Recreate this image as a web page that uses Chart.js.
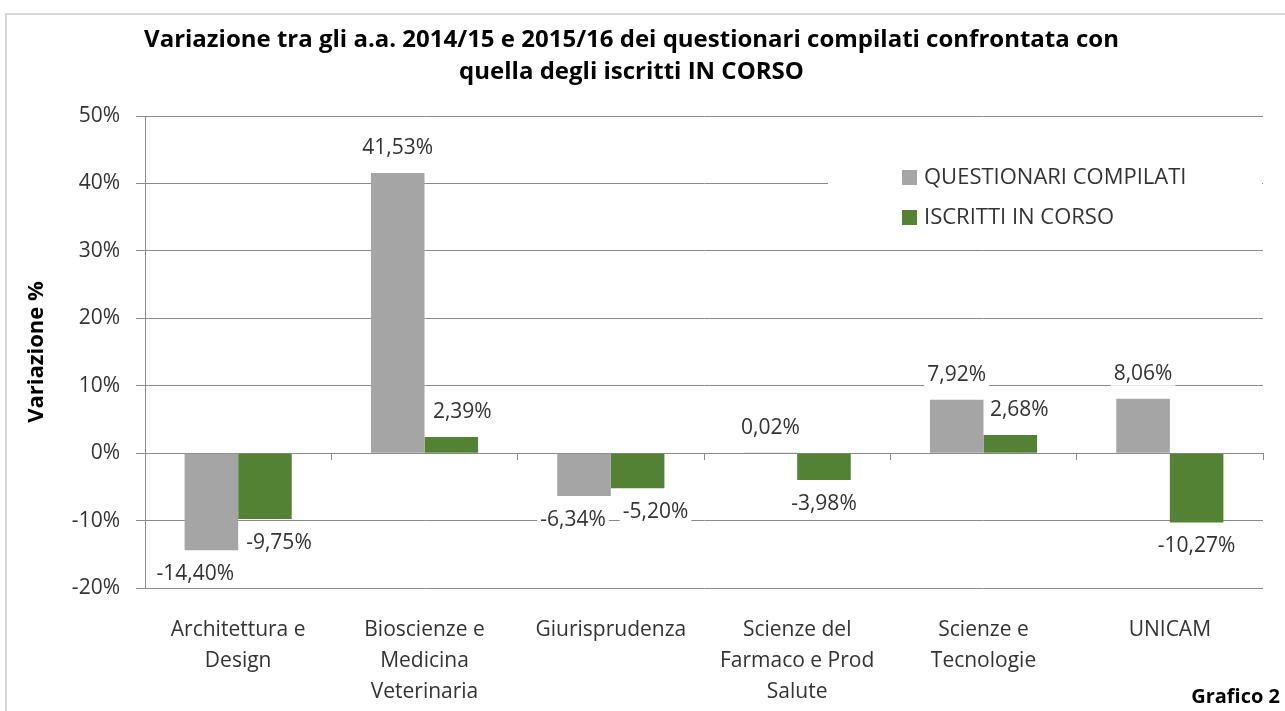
<!DOCTYPE html>
<html>
<head>
<meta charset="utf-8">
<script src="https://cdn.jsdelivr.net/npm/chart.js@4.4.1/dist/chart.umd.min.js"></script>
<style>
    html, body { margin: 0; padding: 0; background: #fff; }
    #wrap { position: relative; width: 1285px; height: 711px; overflow: hidden; }
    #frame { position: absolute; left: 5px; top: 13px; right: -10px; bottom: -10px;
             border-left: 2px solid #d6d6d6; border-top: 2px solid #d6d6d6; }
    #grafico { position: absolute; right: 5px; bottom: 2px; font: bold 20px "Open Sans", sans-serif; color: #000; }
    canvas { position: absolute; left: 0; top: 0; }
</style>
</head>
<body>
<div id="wrap">
    <div id="frame"></div>
    <canvas id="myChart" width="1285" height="711"></canvas>
    <div id="grafico">Grafico 2</div>
</div>
<script>
const CATEGORIES = [
    ["Architettura e", "Design"],
    ["Bioscienze e", "Medicina", "Veterinaria"],
    ["Giurisprudenza"],
    ["Scienze del", "Farmaco e Prod", "Salute"],
    ["Scienze e", "Tecnologie"],
    ["UNICAM"]
];
const SERIES_NAMES = ["QUESTIONARI COMPILATI", "ISCRITTI IN CORSO"];
const QUESTIONARI = [-14.40, 41.53, -6.34, 0.02, 7.92, 8.06];
const ISCRITTI = [-9.75, 2.39, -5.20, -3.98, 2.68, -10.27];
const Y_MIN = -20, Y_MAX = 50, Y_STEP = 10;

const FONT = '"Open Sans", "DejaVu Sans", sans-serif';
const GRID = '#8a8a8a';

// nudges of the value labels (px), as moved by hand in the original
const LABEL_SHIFT = [
    [-16, 0, -11, 0, 0, 0],
    [14, 11, 18, 0, 9, 0]
];

function fmt(v) {
    return v.toFixed(2).replace('.', ',') + '%';
}

const valueLabels = {
    id: 'valueLabels',
    afterDatasetsDraw(chart) {
        const ctx = chart.ctx;
        ctx.save();
        ctx.font = '21px ' + FONT;
        ctx.textAlign = 'center';
        ctx.textBaseline = 'middle';
        chart.data.datasets.forEach(function (ds, di) {
            chart.getDatasetMeta(di).data.forEach(function (bar, i) {
                const v = ds.data[i];
                const txt = fmt(v);
                const x = bar.x + LABEL_SHIFT[di][i];
                const y = v >= 0 ? bar.y - 25 : bar.y + 24;
                const w = ctx.measureText(txt).width + 6;
                ctx.fillStyle = '#fff';
                ctx.fillRect(x - w / 2, y - 12, w, 24);
                ctx.fillStyle = '#333';
                ctx.fillText(txt, x, y);
            });
        });
        ctx.restore();
    }
};

const boxLegend = {
    id: 'boxLegend',
    afterDraw(chart) {
        const ctx = chart.ctx;
        ctx.save();
        ctx.fillStyle = '#fff';
        ctx.fillRect(828, 150, 434, 88);
        ctx.font = '22px ' + FONT;
        ctx.textBaseline = 'middle';
        chart.data.datasets.forEach(function (ds, di) {
            const cy = 177 + di * 40;
            ctx.fillStyle = ds.backgroundColor;
            ctx.fillRect(902, cy - 7, 15, 15);
            ctx.fillStyle = '#333';
            ctx.fillText(ds.label, 924, cy + 1);
        });
        ctx.restore();
    }
};

const ctx1 = document.getElementById('myChart');

const chart = new Chart(ctx1, {
    type: 'bar',
    data: {
        labels: CATEGORIES,
        datasets: [{
            label: SERIES_NAMES[0],
            data: QUESTIONARI,
            backgroundColor: '#a5a5a5'
        }, {
            label: SERIES_NAMES[1],
            data: ISCRITTI,
            backgroundColor: '#548235'
        }]
    },
    options: {
        responsive: false,
        animation: false,
        layout: { padding: { left: 0, right: 22, top: 0, bottom: 0 } },
        datasets: {
            bar: { categoryPercentage: 0.575, barPercentage: 1 }
        },
        plugins: {
            legend: { display: false },
            tooltip: { enabled: false },
            title: {
                display: true,
                text: ["Variazione tra gli a.a. 2014/15 e 2015/16 dei questionari compilati confrontata con",
                       "quella degli iscritti IN CORSO"],
                color: '#000',
                font: { family: FONT, size: 24, weight: 'bold', lineHeight: 32 / 24 },
                padding: { top: 24, bottom: 28 }
            }
        },
        scales: {
            x: {
                grid: { display: false, drawTicks: false },
                border: { display: false },
                ticks: {
                    color: '#333',
                    padding: 27,
                    font: { family: FONT, size: 21, lineHeight: 31 / 21 },
                    maxRotation: 0,
                    autoSkip: false
                },
                afterFit: function (s) { s.height = 123; }
            },
            x2: {
                type: 'category',
                axis: 'x',
                position: { y: 0 },
                offset: true,
                grid: { offset: true, drawOnChartArea: false, drawTicks: true, tickLength: 6, color: GRID },
                border: { display: true, color: GRID },
                ticks: { display: false }
            },
            y: {
                min: Y_MIN,
                max: Y_MAX,
                ticks: {
                    stepSize: Y_STEP,
                    color: '#333',
                    padding: 16,
                    font: { family: FONT, size: 21 },
                    callback: function (v) { return v + '%'; }
                },
                grid: { color: GRID, tickLength: 9 },
                border: { display: true, color: GRID },
                title: {
                    display: true,
                    text: 'Variazione %',
                    color: '#000',
                    font: { family: FONT, size: 22, weight: 'bold' },
                    padding: { top: 24 }
                },
                afterFit: function (s) { s.width = 145; }
            }
        }
    },
    plugins: [valueLabels, boxLegend]
});
</script>
</body>
</html>
